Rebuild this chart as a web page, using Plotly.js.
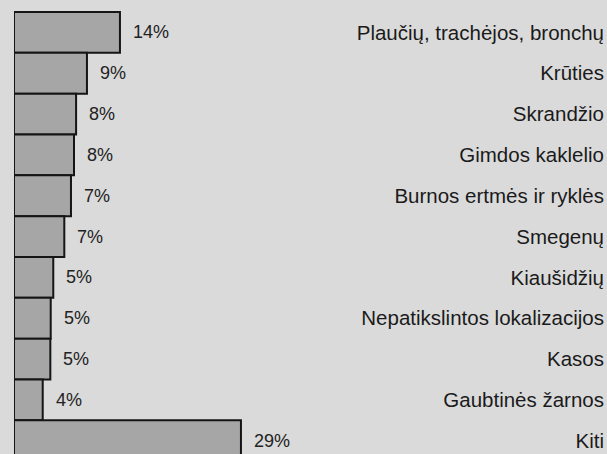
<!DOCTYPE html>
<html>
<head>
<meta charset="utf-8">
<script src="https://cdn.plot.ly/plotly-3.0.1.min.js"></script>
<style>html,body{margin:0;padding:0;background:#dadada;}#chart{width:607px;height:454px;}</style>
</head>
<body>
<div id="chart"></div>
<script>
const categories = [
  "Plaučių, trachėjos, bronchų",
  "Krūties",
  "Skrandžio",
  "Gimdos kaklelio",
  "Burnos ertmės ir ryklės",
  "Smegenų",
  "Kiaušidžių",
  "Nepatikslintos lokalizacijos",
  "Kasos",
  "Gaubtinės žarnos",
  "Kiti"
];
const values = [13.65, 9.4, 8.0, 7.73, 7.34, 6.48, 5.06, 4.73, 4.68, 3.7, 29.24];
const valueLabels = ["14%", "9%", "8%", "8%", "7%", "7%", "5%", "5%", "5%", "4%", "29%"];

const trace = {
  type: "bar",
  orientation: "h",
  x: values,
  y: categories,
  marker: {color: "#a6a6a6", line: {color: "#151515", width: 2}},
  hoverinfo: "none"
};

const annotations = values.map((v, i) => ({
  x: v, y: categories[i], xref: "x", yref: "y",
  text: valueLabels[i], showarrow: false,
  xanchor: "left", yanchor: "middle", xshift: 11,
  font: {family: "Liberation Sans, Arial, sans-serif", size: 18, color: "#222"}
}));

const layout = {
  width: 607, height: 454,
  margin: {l: 14, r: 0, t: 0, b: 0, pad: 0},
  paper_bgcolor: "#dadada",
  plot_bgcolor: "#dadada",
  bargap: 0,
  showlegend: false,
  xaxis: {range: [0, 76.4], showticklabels: false, showgrid: false, zeroline: false, showline: false, ticks: ""},
  yaxis: {
    type: "category",
    range: [10.325, -0.794],
    side: "right",
    ticklabelposition: "inside",
    ticklabeloverflow: "allow",
    ticks: "",
    showgrid: false, zeroline: false, showline: false,
    tickfont: {family: "Liberation Sans, Arial, sans-serif", size: 20.5, color: "#1a1a1a"}
  },
  annotations: annotations
};

Plotly.newPlot("chart", [trace], layout, {displayModeBar: false, staticPlot: true});
</script>
</body>
</html>
